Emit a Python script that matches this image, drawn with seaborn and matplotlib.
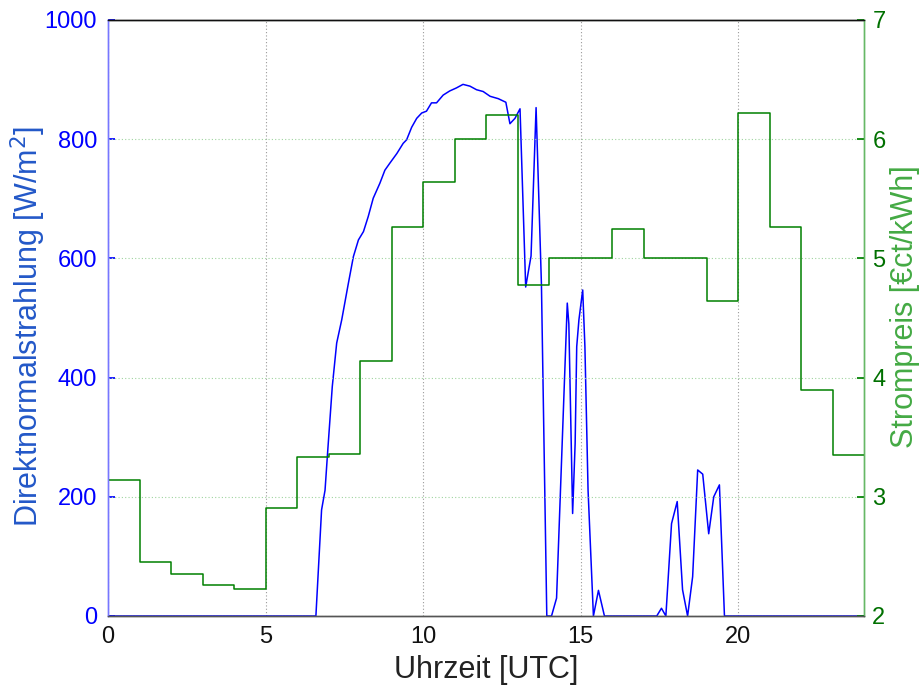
import matplotlib
matplotlib.use("Agg")
import matplotlib.pyplot as plt
import seaborn as sns
import pandas as pd

# ---- data ----
dni_hours = [0, 6.60, 6.78, 6.89, 6.97, 7.12, 7.26, 7.42, 7.63, 7.79, 7.95, 8.11, 8.26, 8.42,
             8.63, 8.79, 8.95, 9.17, 9.37, 9.48, 9.64, 9.80, 9.96, 10.11, 10.27, 10.43, 10.64,
             10.85, 11.06, 11.27, 11.49, 11.70, 11.91, 12.13, 12.39, 12.63, 12.76, 12.92, 13.08,
             13.26, 13.43, 13.59, 13.76, 13.93, 14.08, 14.24, 14.58, 14.63, 14.75, 14.83, 14.88,
             14.95, 15.07, 15.14, 15.24, 15.41, 15.57, 15.76, 17.42, 17.57, 17.71, 17.89, 18.07,
             18.24, 18.40, 18.56, 18.72, 18.88, 19.07, 19.23, 19.41, 19.57, 24]
dni_values = [0, 0, 178, 211, 273, 385, 458, 497, 558, 603, 631, 645, 670, 701,
              726, 748, 760, 776, 793, 799, 820, 835, 844, 847, 861, 861, 874,
              881, 886, 892, 889, 883, 880, 872, 868, 862, 826, 835, 851,
              552, 604, 853, 556, 0, 0, 30, 525, 490, 172, 290, 452,
              497, 547, 452, 211, 0, 43, 0, 0, 13, 0, 155, 192,
              44, 0, 66, 245, 238, 138, 200, 220, 0, 0]

price_hours = list(range(25))
price_values = [3.14, 2.45, 2.35, 2.26, 2.23, 2.91, 3.33, 3.36, 4.14, 5.26, 5.64, 6.00,
                6.20, 4.78, 5.00, 5.00, 5.25, 5.00, 5.00, 4.64, 6.22, 5.26, 3.90, 3.35]
price_values_step = price_values + [price_values[-1]]

x_ticks = [0, 5, 10, 15, 20]
left_ticks = [0, 200, 400, 600, 800, 1000]
right_ticks = [2, 3, 4, 5, 6, 7]

dni_df = pd.DataFrame({"t": dni_hours, "dni": dni_values})
price_df = pd.DataFrame({"t": price_hours, "price": price_values_step})

sns.set_theme(style="white")
plt.rcParams["font.family"] = ["Liberation Sans", "DejaVu Sans"]

fig = plt.figure(figsize=(9.19, 6.86), dpi=100)
ax = fig.add_axes([108 / 919, 1 - 616 / 686, (864 - 108) / 919, (616 - 20) / 686])
ax2 = ax.twinx()

sns.lineplot(data=dni_df, x="t", y="dni", ax=ax, color="#0000FF", linewidth=1.1,
             estimator=None, sort=False)
sns.lineplot(data=price_df, x="t", y="price", ax=ax2, color="#008000", linewidth=1.1,
             estimator=None, sort=False, drawstyle="steps-post")

ax.set_xlim(0, 24)
ax.set_ylim(0, 1000)
ax2.set_ylim(2, 7)
ax.set_xticks(x_ticks)
ax.set_yticks(left_ticks)
ax2.set_yticks(right_ticks)

ax.grid(axis="x", color="#9a9a9a", linestyle=(0, (1, 2)), linewidth=0.8)
ax.grid(axis="y", visible=False)
ax2.grid(axis="y", color="#9fd49f", linestyle=(0, (1, 2)), linewidth=0.8)
ax2.grid(axis="x", visible=False)
ax.set_zorder(1)
ax.patch.set_visible(False)
ax2.set_zorder(2)

tick_fs = 17
ax.tick_params(axis="x", direction="in", length=5, colors="#333333", labelsize=tick_fs,
               labelcolor="#111111", pad=7)
ax.tick_params(axis="y", direction="in", length=5, colors="#0000FF", labelsize=tick_fs,
               labelcolor="#0000FF", pad=8)
ax2.tick_params(axis="y", direction="in", length=5, colors="#008000", labelsize=tick_fs,
                labelcolor="#007000", pad=6)

for a in (ax, ax2):
    for s in a.spines.values():
        s.set_visible(True)
        s.set_linewidth(1.0)
    a.spines["left"].set_color("#7777ff")
    a.spines["right"].set_color("#66b866")
    a.spines["top"].set_color("#111111")
    a.spines["bottom"].set_color("#555555")

ax.set_xlabel("Uhrzeit [UTC]", fontsize=22, color="#222222")
ax.xaxis.set_label_coords(0.5, -(670 - 616) / 596)
ax.xaxis.label.set_va("center")
ax.set_ylabel("Direktnormalstrahlung [W/m$^2$]", fontsize=22, color="#2358C8")
ax2.set_ylabel("Strompreis [€ct/kWh]", fontsize=22, color="#44AA44", rotation=90)
ax.yaxis.set_label_coords((28 - 108) / 756, (616 - 326) / 596)
ax2.yaxis.set_label_coords((905 - 108) / 756, (616 - 307) / 596)
ax.yaxis.label.set_va("center")
ax2.yaxis.label.set_va("center")

fig.savefig("out.png", dpi=100)
